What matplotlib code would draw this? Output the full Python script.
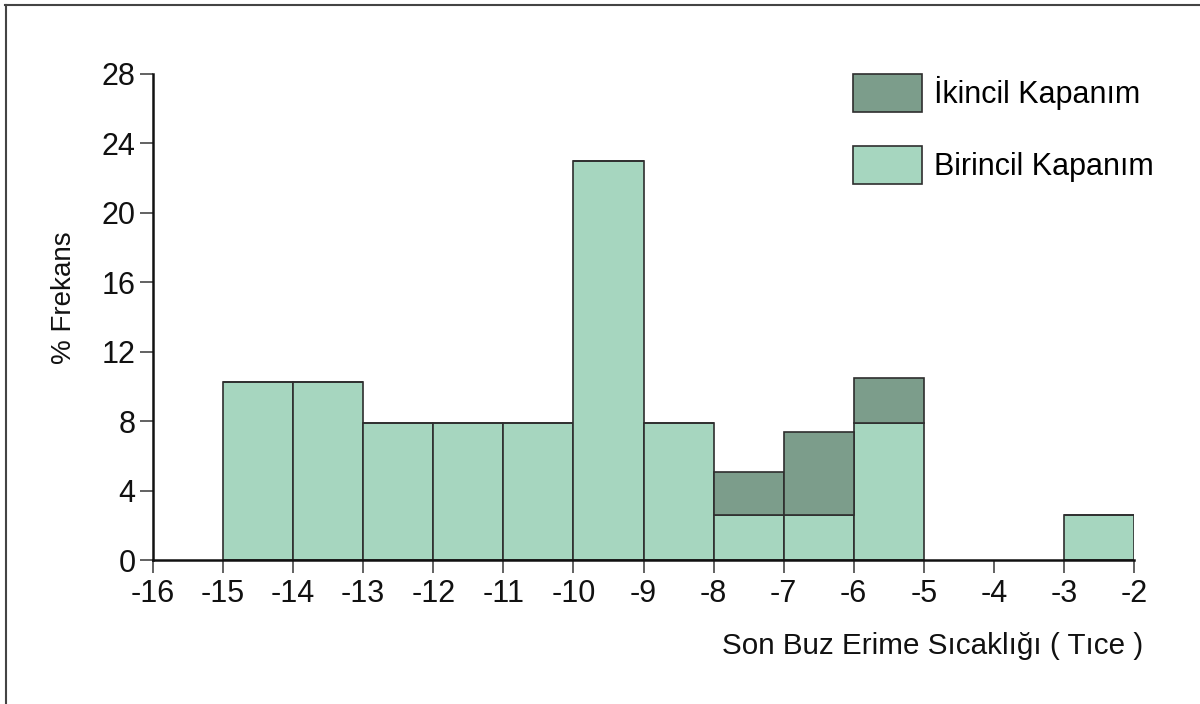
import matplotlib
matplotlib.use("Agg")
import matplotlib.pyplot as plt
from matplotlib.lines import Line2D

plt.rcParams['font.family'] = ['Liberation Sans', 'DejaVu Sans']

# veri: bin sol kenarlari ve yuzde frekanslar
bin_sol = [-15, -14, -13, -12, -11, -10, -9, -8, -7, -6, -3]
birincil = [10.25, 10.25, 7.9, 7.9, 7.9, 23.0, 7.9, 2.6, 2.6, 7.9, 2.6]
ikincil = [0, 0, 0, 0, 0, 0, 0, 2.5, 4.8, 2.6, 0]
x_ticks = list(range(-16, -1))
y_ticks = [0, 4, 8, 12, 16, 20, 24, 28]

renk_birincil = '#a6d6bf'
renk_ikincil = '#7c9d8b'
kenar = '#2e2e2e'

fig = plt.figure(figsize=(12, 7.04), dpi=100)
ax = fig.add_axes([0.1275, 0.2045, 0.8175, 0.6904])

ax.bar(bin_sol, birincil, width=1, align='edge', color=renk_birincil,
       edgecolor=kenar, linewidth=1.2, label='Birincil Kapanım', zorder=2)
ax.bar(bin_sol, ikincil, width=1, align='edge', bottom=birincil,
       color=renk_ikincil, edgecolor=kenar, linewidth=1.2,
       label='İkincil Kapanım', zorder=2)

ax.set_xlim(-16, -2)
ax.set_ylim(0, 28)
ax.set_xticks(x_ticks)
ax.set_yticks(y_ticks)
ax.set_xticklabels([str(t) for t in x_ticks])

for s in ['top', 'right']:
    ax.spines[s].set_visible(False)
for s in ['left', 'bottom']:
    ax.spines[s].set_linewidth(1.8)
    ax.spines[s].set_color('#111111')
    ax.spines[s].set_zorder(3)

ax.tick_params(axis='both', length=9.5, width=1.3, color='#555555',
               labelsize=22, pad=4, labelcolor='#111111')
ax.tick_params(axis='y', pad=3)

ax.set_xlabel('Son Buz Erime Sıcaklığı ( Tıce )', fontsize=21.3, loc='right',
              color='#111111')
ax.xaxis.set_label_coords(1.009, -0.148)
ax.set_ylabel('% Frekans', fontsize=20, color='#111111')
ax.yaxis.set_label_coords(-0.077, 0.54)

h, l = ax.get_legend_handles_labels()
ax.legend(h[::-1], l[::-1], loc='upper left', bbox_to_anchor=(0.714, 1.0),
          frameon=False, fontsize=22, handlelength=2.25, handleheight=1.55,
          labelspacing=1.1, handletextpad=0.4, borderpad=0, borderaxespad=0)

# cerceve cizgileri
fig.add_artist(Line2D([0.0045, 1], [0.993, 0.993], color='#444444', lw=1.5))
fig.add_artist(Line2D([0.0048, 0.0048], [0, 0.993], color='#444444', lw=1.5))

fig.savefig('out.png', dpi=100)
